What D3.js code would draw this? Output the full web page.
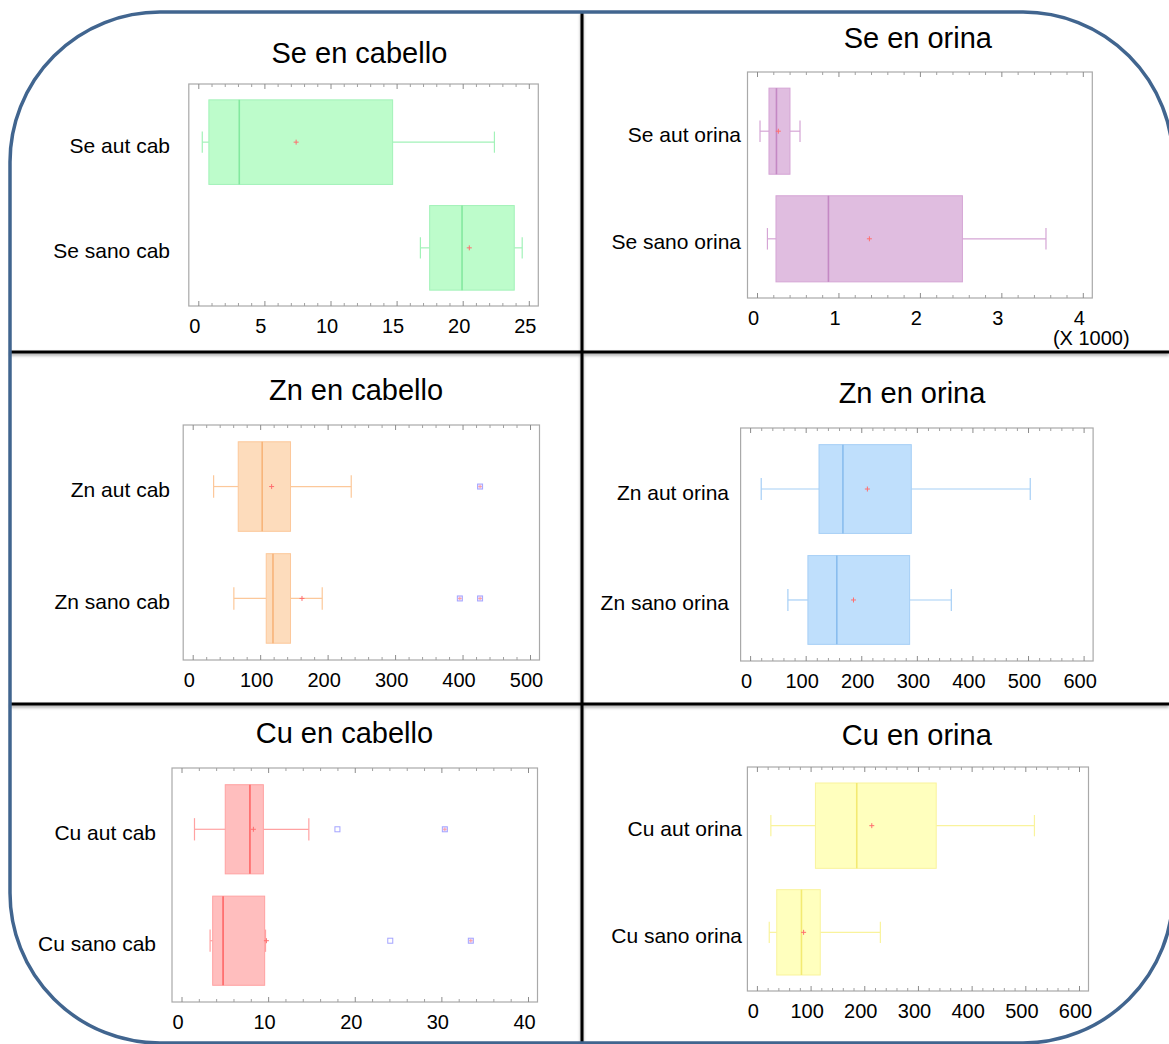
<!DOCTYPE html>
<html>
<head>
<meta charset="utf-8">
<script src="https://cdn.jsdelivr.net/npm/d3@7"></script>
<style>
  html, body { margin: 0; padding: 0; background: #ffffff; }
  svg { display: block; font-family: "Liberation Sans", Arial, sans-serif; }
</style>
</head>
<body>
<svg id="chart" width="1169" height="1044"></svg>
<script>
// Box-and-whisker summaries of Se, Zn and Cu in hair (cabello) and urine (orina)
const panelTitles = ["Se en cabello", "Se en orina", "Zn en cabello", "Zn en orina", "Cu en cabello", "Cu en orina"];
const categories = [
  ["Se aut cab", "Se sano cab"],
  ["Se aut orina", "Se sano orina"],
  ["Zn aut cab", "Zn sano cab"],
  ["Zn aut orina", "Zn sano orina"],
  ["Cu aut cab", "Cu sano cab"],
  ["Cu aut orina", "Cu sano orina"]
];
const whiskerLow  = [[0.3, 16.8], [37, 128],   [31, 61],   [20, 68],   [1.5, 3.3],  [26, 23]];
const quartile1   = [[0.8, 17.5], [147, 233],  [67.5, 109],[124, 104], [5.05, 3.6], [109, 37]];
const medians     = [[3.1, 19.95],[239, 877],  [103, 119], [167, 156], [7.9, 4.8],  [186, 83]];
const quartile3   = [[14.7, 23.9],[405, 2522], [145, 145], [290, 287], [9.45, 9.6], [334, 118]];
const whiskerHigh = [[22.4, 24.5],[528, 3548], [235, 192], [504, 362], [14.7, 9.7], [517, 230]];
const means       = [[7.4, 20.5], [262, 1380], [117, 162], [211, 186], [8.3, 9.8],  [214, 87]];
const outsidePoints    = [[[], []], [[], []], [[], []], [[], []], [[18.0], [24.1]], [[], []]];
const farOutsidePoints = [[[], []], [[], []], [[426], [396, 426]], [[], []], [[30.4], [33.4]], [[], []]];
const axisMax      = [25, 4000, 500, 600, 40, 600];
const majorStep    = [5, 1000, 100, 100, 10, 100];
const minorStep    = [1, 200, 20, 20, 2, 20];
const labelDivisor = [1, 1000, 1, 1, 1, 1];

// Panel placement: plot frame [left, right, top, bottom], title anchor, category label right edge
const panelLayout = [
  { frame: [188.8, 538.3, 84, 306],  title: [359.4, 62.5], labelX: 170 },
  { frame: [747.5, 1092.3, 72, 298], title: [917.8, 48.3], labelX: 741 },
  { frame: [183.2, 539.5, 425, 660], title: [356, 400],    labelX: 170 },
  { frame: [740.6, 1093.1, 428, 661],title: [912, 403.3],  labelX: 729 },
  { frame: [172, 537.5, 768, 1002],  title: [344.4, 742.7],labelX: 156 },
  { frame: [747.4, 1088.5, 767, 991],title: [916.8, 745],   labelX: 742 }
];
const palette = [
  { fill: "#bdfccb", line: "#a2f2b8", median: "#84e89f" },
  { fill: "#e0bde0", line: "#d5a5d5", median: "#c488c4" },
  { fill: "#fddcbc", line: "#fcc89a", median: "#f7b47a" },
  { fill: "#bfdffc", line: "#a6cff6", median: "#89bdee" },
  { fill: "#ffbebe", line: "#ffa2a2", median: "#ff6666" },
  { fill: "#ffffbe", line: "#f9f39c", median: "#f3ea72" }
];
const rangeInset = 9.5;

const svg = d3.select("#chart");

const defs = svg.append("defs");
const shadow = defs.append("filter").attr("id", "lineShadow")
  .attr("x", "-5%").attr("y", "-50%").attr("width", "110%").attr("height", "200%");
shadow.append("feDropShadow").attr("dx", 0).attr("dy", 2).attr("stdDeviation", 1.5)
  .attr("flood-color", "#000").attr("flood-opacity", 0.35);

svg.append("rect").attr("width", 1169).attr("height", 1044).attr("fill", "#ffffff");

// Dividers between the six panels
const dividers = svg.append("g").attr("filter", "url(#lineShadow)")
  .attr("stroke", "#000").attr("stroke-width", 3);
dividers.append("line").attr("x1", 582).attr("x2", 582).attr("y1", 12).attr("y2", 1044);
dividers.append("line").attr("x1", 10).attr("x2", 1169).attr("y1", 352).attr("y2", 352);
dividers.append("line").attr("x1", 10).attr("x2", 1169).attr("y1", 704).attr("y2", 704);

// Rounded outline around the whole figure
svg.append("rect")
  .attr("x", 10).attr("y", 12).attr("width", 1163).attr("height", 1031)
  .attr("rx", 150).attr("ry", 150)
  .attr("fill", "none").attr("stroke", "#41658f").attr("stroke-width", 3.5);

function plusPath(cx, cy, r) {
  return `M${cx - r},${cy}H${cx + r}M${cx},${cy - r}V${cy + r}`;
}

panelTitles.forEach((title, i) => {
  const lay = panelLayout[i];
  const col = palette[i];
  const [fx0, fx1, fy0, fy1] = lay.frame;
  const g = svg.append("g");

  const x = d3.scaleLinear().domain([0, axisMax[i]]).range([fx0 + rangeInset, fx1 - rangeInset]);
  const y = d3.scaleBand().domain(categories[i]).range([fy0, fy1])
    .paddingInner(0.2).paddingOuter(0.15);
  const bw = y.bandwidth();

  g.append("text")
    .attr("x", lay.title[0]).attr("y", lay.title[1])
    .attr("text-anchor", "middle").attr("font-size", 29).attr("fill", "#000")
    .text(title);

  g.append("rect")
    .attr("x", fx0).attr("y", fy0).attr("width", fx1 - fx0).attr("height", fy1 - fy0)
    .attr("fill", "#fff").attr("stroke", "#a9a9a9").attr("stroke-width", 1.2);

  const majors = d3.range(0, axisMax[i] + 1e-9, majorStep[i]);
  const minors = d3.range(0, axisMax[i] + 1e-9, minorStep[i]).filter(v => !majors.includes(v));

  // Inward ticks along the bottom edge, with labels
  const bottomAxis = g.append("g").attr("transform", `translate(0,${fy1})`)
    .call(d3.axisBottom(x).tickValues(majors).tickSizeInner(-5).tickSizeOuter(0)
      .tickPadding(12.8).tickFormat(d => d3.format("~g")(d / labelDivisor[i])));
  bottomAxis.select(".domain").remove();
  bottomAxis.selectAll("line").attr("stroke", "#8c8c8c");
  bottomAxis.selectAll("text").attr("x", -4).attr("font-size", 20)
    .attr("font-family", "Liberation Sans, Arial, sans-serif").attr("fill", "#000");

  const bottomMinor = g.append("g").attr("transform", `translate(0,${fy1})`)
    .call(d3.axisBottom(x).tickValues(minors).tickSizeInner(-3).tickSizeOuter(0).tickFormat(""));
  bottomMinor.select(".domain").remove();
  bottomMinor.selectAll("line").attr("stroke", "#a0a0a0");

  // Inward ticks along the top edge
  const topAxis = g.append("g").attr("transform", `translate(0,${fy0})`)
    .call(d3.axisTop(x).tickValues(majors).tickSizeInner(-5).tickSizeOuter(0).tickFormat(""));
  topAxis.select(".domain").remove();
  topAxis.selectAll("line").attr("stroke", "#8c8c8c");
  const topMinor = g.append("g").attr("transform", `translate(0,${fy0})`)
    .call(d3.axisTop(x).tickValues(minors).tickSizeInner(-3).tickSizeOuter(0).tickFormat(""));
  topMinor.select(".domain").remove();
  topMinor.selectAll("line").attr("stroke", "#a0a0a0");

  // Scale multiplier note under the last tick label
  if (labelDivisor[i] !== 1) {
    g.append("text")
      .attr("x", fx1 - 1).attr("y", fy1 + 47)
      .attr("text-anchor", "middle").attr("font-size", 20).attr("fill", "#000")
      .text(`(X ${labelDivisor[i]})`);
  }

  categories[i].forEach((cat, j) => {
    const top = y(cat);
    const cy = top + bw / 2;
    const capH = bw * 0.25;

    g.append("text")
      .attr("x", lay.labelX).attr("y", cy + 10.5)
      .attr("text-anchor", "end").attr("font-size", 21).attr("fill", "#000")
      .text(cat);

    const wl = g.append("g").attr("stroke", col.line).attr("stroke-width", 1.2).attr("fill", "none");
    wl.append("line").attr("x1", x(whiskerLow[i][j])).attr("x2", x(quartile1[i][j]))
      .attr("y1", cy).attr("y2", cy);
    wl.append("line").attr("x1", x(quartile3[i][j])).attr("x2", x(whiskerHigh[i][j]))
      .attr("y1", cy).attr("y2", cy);
    wl.append("line").attr("x1", x(whiskerLow[i][j])).attr("x2", x(whiskerLow[i][j]))
      .attr("y1", cy - capH / 2).attr("y2", cy + capH / 2);
    wl.append("line").attr("x1", x(whiskerHigh[i][j])).attr("x2", x(whiskerHigh[i][j]))
      .attr("y1", cy - capH / 2).attr("y2", cy + capH / 2);

    g.append("rect")
      .attr("x", x(quartile1[i][j])).attr("y", top)
      .attr("width", x(quartile3[i][j]) - x(quartile1[i][j])).attr("height", bw)
      .attr("fill", col.fill).attr("stroke", col.line).attr("stroke-width", 1);

    g.append("line")
      .attr("x1", x(medians[i][j])).attr("x2", x(medians[i][j]))
      .attr("y1", top).attr("y2", top + bw)
      .attr("stroke", col.median).attr("stroke-width", 1.6);

    g.append("path").attr("d", plusPath(x(means[i][j]), cy, 2.5))
      .attr("stroke", "#ff6f6f").attr("stroke-width", 1).attr("fill", "none");

    outsidePoints[i][j].forEach(v => {
      g.append("rect").attr("x", x(v) - 2.5).attr("y", cy - 2.5).attr("width", 5).attr("height", 5)
        .attr("fill", "none").attr("stroke", "#a4a4ff").attr("stroke-width", 1);
    });
    farOutsidePoints[i][j].forEach(v => {
      g.append("rect").attr("x", x(v) - 2.5).attr("y", cy - 2.5).attr("width", 5).attr("height", 5)
        .attr("fill", "#ebe4ff").attr("stroke", "#a4a4ff").attr("stroke-width", 1);
      g.append("path").attr("d", plusPath(x(v), cy, 1.8))
        .attr("stroke", "#ff9a9a").attr("stroke-width", 0.9).attr("fill", "none");
    });
  });
});
</script>
</body>
</html>
